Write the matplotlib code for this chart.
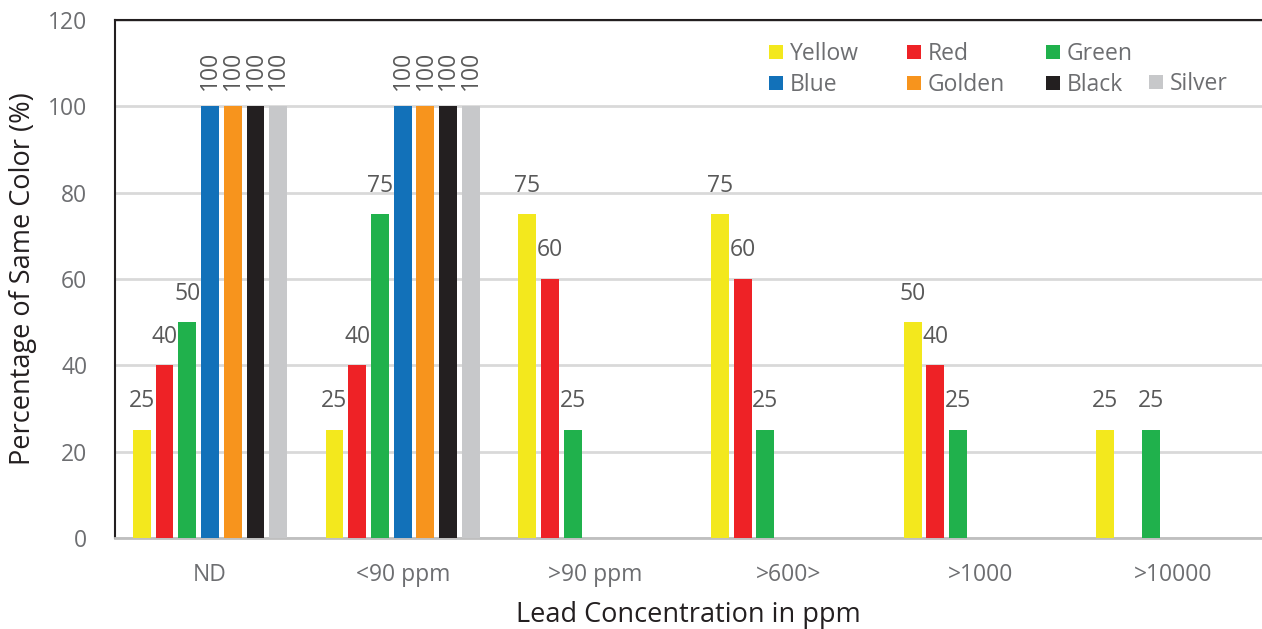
import numpy as np
import matplotlib.pyplot as plt
from matplotlib.legend import Legend

plt.rcParams['font.family'] = ['Open Sans', 'DejaVu Sans']

# Datos
categorias = ['ND', '<90 ppm', '>90 ppm', '>600>', '>1000', '>10000']
series = ['Yellow', 'Red', 'Green', 'Blue', 'Golden', 'Black', 'Silver']
colores = ['#f3e81d', '#ee2226', '#20b14c', '#1271b9', '#f7941d', '#231f20', '#c7c8ca']

yellow = [25, 25, 75, 75, 50, 25]
red = [40, 40, 60, 60, 40, 0]
green = [50, 75, 25, 25, 25, 25]
blue = [100, 100, 0, 0, 0, 0]
golden = [100, 100, 0, 0, 0, 0]
black = [100, 100, 0, 0, 0, 0]
silver = [100, 100, 0, 0, 0, 0]
valores = [yellow, red, green, blue, golden, black, silver]

fig = plt.figure(figsize=(12.62, 6.29), dpi=100)
ax = fig.add_axes([115 / 1262, 91 / 629, 1147 / 1262, 518 / 629])

x = np.arange(len(categorias))
paso = 0.118
ancho = 0.093

for i, (nombre, col, vals) in enumerate(zip(series, colores, valores)):
    pos = x + (i - 3) * paso
    vals = np.array(vals)
    mask = vals > 0
    ax.bar(pos[mask], vals[mask], width=ancho, color=col, zorder=3, label=nombre)
    for p, v in zip(pos[mask], vals[mask]):
        if v >= 100:
            ax.annotate(str(v), (p, v), xytext=(0, 12), textcoords='offset points',
                        ha='center', va='bottom', rotation=90, fontsize=16.5, color='#595959')
        else:
            ax.annotate(str(v), (p, v), xytext=(0, 12), textcoords='offset points',
                        ha='center', va='bottom', fontsize=16.5, color='#595959')

ax.set_xlim(-0.493, 5.459)
ax.set_ylim(0, 120)
ax.set_yticks(range(0, 121, 20))
ax.set_xticks(x)
ax.set_xticklabels(categorias)
ax.tick_params(axis='both', length=0, labelsize=16.5, labelcolor='#6d6e71')
ax.tick_params(axis='x', pad=18)
ax.tick_params(axis='y', pad=20)

ax.grid(axis='y', color='#d9d9d9', linewidth=2, zorder=0)
ax.set_axisbelow(True)
ax.spines['right'].set_visible(False)
ax.spines['left'].set_color('#231f20')
ax.spines['left'].set_linewidth(1.5)
ax.spines['top'].set_color('#231f20')
ax.spines['top'].set_linewidth(1.5)
ax.spines['bottom'].set_color('#bfbfbf')
ax.spines['bottom'].set_linewidth(2)

ax.set_ylabel('Percentage of Same Color (%)', fontsize=19.5, color='#231f20', labelpad=8)
ax.set_xlabel('Lead Concentration in ppm', fontsize=19.5, color='#231f20', labelpad=10)

# Leyenda en columnas separadas (como Excel): Yellow/Blue, Red/Golden, Green/Black, Silver
h, l = ax.get_legend_handles_labels()
estilo = dict(frameon=False, fontsize=16.5, labelcolor='#6d6e71', handlelength=0.6,
              handleheight=0.6, handletextpad=0.3, labelspacing=0.3, borderpad=0.0,
              borderaxespad=0.0, loc='upper left')
columnas = [([0, 3], 769, 22), ([1, 4], 907, 22), ([2, 5], 1046, 22), ([6], 1149, 52)]
for idx, px, py in columnas:
    leg = Legend(ax, [h[k] for k in idx], [l[k] for k in idx],
                 bbox_to_anchor=((px - 115) / 1147, 1 - py / 518), **estilo)
    ax.add_artist(leg)

fig.savefig('out.png', dpi=100)
